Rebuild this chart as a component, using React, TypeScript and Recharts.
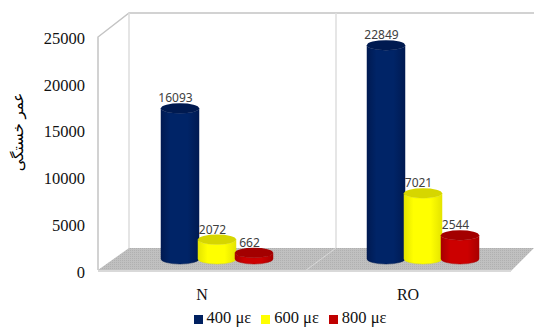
import { Bar, BarChart, LabelList, Legend, XAxis, YAxis } from "recharts";

const categories = ["N", "RO"];
const strain400 = [16093, 22849];
const strain600 = [2072, 7021];
const strain800 = [662, 2544];
const yTicks = [0, 5000, 10000, 15000, 20000, 25000];
const seriesNames = ["400 με", "600 με", "800 με"];
const yTitle = "عمر خستگی";

const chartData = categories.map((name, i) => ({
  name,
  s400: strain400[i],
  s600: strain600[i],
  s800: strain800[i],
}));

// the bars stand in the middle of the floor, so push them back from the front plane
const DEPTH_X = 15;
const DEPTH_Y = 13;
const CAP_RY = 5;
const serif = "'Liberation Serif', serif";

function Cylinder(props: any) {
  const { x, y, width, height, gradient, cap, foot } = props;
  const left = x + DEPTH_X;
  const right = left + width;
  const top = y - DEPTH_Y;
  const bottom = top + height;
  const rx = width / 2;
  const body = `M${left},${top} L${left},${bottom} A${rx},${CAP_RY} 0 0 0 ${right},${bottom} L${right},${top} A${rx},${CAP_RY} 0 0 1 ${left},${top} Z`;
  return (
    <g>
      <path d={body} fill={`url(#${gradient})`} stroke={foot} strokeWidth={0.5} />
      <ellipse cx={left + rx} cy={top} rx={rx} ry={CAP_RY} fill={cap} />
    </g>
  );
}

function ValueLabel(props: any) {
  const { x, y, width, value } = props;
  return (
    <text
      x={x + DEPTH_X + width / 2 - 4.5}
      y={y - DEPTH_Y - 6}
      textAnchor="middle"
      fontFamily="'Noto Sans', sans-serif"
      fontSize={12}
      fill="#404040"
    >
      {value}
    </text>
  );
}

function Gradient({ id, edge, mid }: { id: string; edge: string; mid: string }) {
  return (
    <linearGradient id={id} x1="0" y1="0" x2="1" y2="0">
      <stop offset="0%" stopColor={edge} />
      <stop offset="25%" stopColor={mid} />
      <stop offset="70%" stopColor={mid} />
      <stop offset="100%" stopColor={edge} />
    </linearGradient>
  );
}

// back walls and floor of the box
function Room() {
  return (
    <g>
      <polygon points="98,270 129,248 534,248 511,271 98,271" fill="url(#floorDots)" />
      <polyline points="98,270 98,37 129,13 534,13" fill="none" stroke="#c4c4c4" strokeWidth={1.5} />
      <line x1={129} y1={13} x2={129} y2={248} stroke="#dcdcdc" strokeWidth={1.5} />
      <line x1={336} y1={13} x2={336} y2={248} stroke="#dedede" strokeWidth={1.5} />
      <line x1={305} y1={271} x2={336} y2={248} stroke="#d8d8d8" strokeWidth={1} />
      <line x1={98} y1={271} x2={511} y2={271} stroke="#d9d9d9" strokeWidth={2} />
    </g>
  );
}

export default function App() {
  return (
    <div style={{ position: "absolute", left: 0, top: 0, width: 534, height: 331, background: "#fff" }}>
      <BarChart
        width={534}
        height={331}
        data={chartData}
        barSize={38}
        barGap={-1}
        barCategoryGap={0}
        margin={{ top: 38, right: 23, bottom: 3, left: 39 }}
      >
        <defs>
          <Gradient id="blueBody" edge="#001a52" mid="#002467" />
          <Gradient id="yellowBody" edge="#e4e400" mid="#ffff00" />
          <Gradient id="redBody" edge="#a80000" mid="#cc0000" />
          <pattern id="floorDots" width="2" height="2" patternUnits="userSpaceOnUse">
            <rect width="2" height="2" fill="#c0c0c0" />
            <rect width="1" height="1" fill="#b0b0b0" />
          </pattern>
        </defs>
        <Room />
        <XAxis
          dataKey="name"
          axisLine={false}
          tickLine={false}
          height={36}
          tickMargin={11}
          tick={{ fontFamily: serif, fontSize: 16, fill: "#111" }}
        />
        <YAxis
          width={60}
          domain={[0, 25000]}
          ticks={yTicks}
          interval={0}
          axisLine={false}
          tickLine={false}
          tickMargin={8}
          tick={{ fontFamily: serif, fontSize: 16.5, fill: "#111" }}
        />
        <Legend
          verticalAlign="bottom"
          iconType="square"
          iconSize={9}
          wrapperStyle={{ fontFamily: serif, fontSize: 16.5, left: 0, paddingLeft: 59 }}
          formatter={(value) => <span style={{ color: "#111" }}>{value}</span>}
        />
        <Bar
          dataKey="s400"
          name={seriesNames[0]}
          fill="#002060"
          isAnimationActive={false}
          shape={(p: any) => <Cylinder {...p} gradient="blueBody" cap="#001a50" foot="#001a50" />}
        >
          <LabelList dataKey="s400" content={ValueLabel} />
        </Bar>
        <Bar
          dataKey="s600"
          name={seriesNames[1]}
          fill="#ffff00"
          isAnimationActive={false}
          shape={(p: any) => <Cylinder {...p} gradient="yellowBody" cap="#d6d600" foot="#e4e400" />}
        >
          <LabelList dataKey="s600" content={ValueLabel} />
        </Bar>
        <Bar
          dataKey="s800"
          name={seriesNames[2]}
          fill="#c00000"
          isAnimationActive={false}
          shape={(p: any) => <Cylinder {...p} gradient="redBody" cap="#a30000" foot="#a80000" />}
        >
          <LabelList dataKey="s800" content={ValueLabel} />
        </Bar>
        <text
          transform="translate(23,132) rotate(-90)"
          textAnchor="middle"
          fontFamily="'DejaVu Sans', sans-serif"
          fontSize={15}
          fill="#000"
        >
          {yTitle}
        </text>
      </BarChart>
    </div>
  );
}
